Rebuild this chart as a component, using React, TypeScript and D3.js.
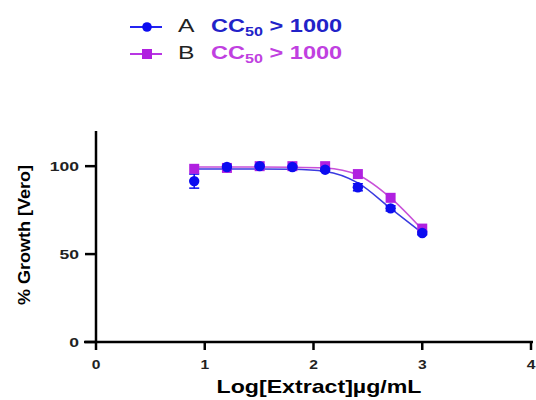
import React from "react";
import * as d3 from "d3";

const logConc = [0.903, 1.204, 1.505, 1.806, 2.107, 2.408, 2.709, 3.0];
const seriesA = [91.5, 99.5, 100, 99.5, 98, 88, 76, 62];
const errorA = [4, 1, 0.5, 0.5, 0.8, 2, 1.5, 1];
const seriesB = [98.5, 99, 100, 100, 100, 95.5, 82, 64.5];
const fitA = [98.4, 98.4, 98.4, 98.2, 97, 90.5, 76, 62];
const fitB = [99.5, 99.5, 99.5, 99.4, 99, 95, 82, 64];
const xTicks = [0, 1, 2, 3, 4];
const yTicks = [0, 50, 100];
const legendNames = ["A", "B"];
const legendNotes = ["> 1000", "> 1000"];

const colA = "#0c0cf0";
const colALine = "#3a3ae0";
const colB = "#b020e0";
const colBLine = "#c850d8";
const txtA = "#2222c8";
const txtB = "#c040e0";

export default function App() {
  const W = 536, H = 400;
  const x = d3.scaleLinear().domain([0, 4]).range([96, 531]);
  const y = d3.scaleLinear().domain([0, 120]).range([342, 131]);
  const line = d3
    .line<number>()
    .x((_, i) => x(logConc[i]))
    .y((d) => y(d))
    .curve(d3.curveMonotoneX);
  const font = "'Liberation Sans', Arial, sans-serif";
  const sq = 10;
  const legendRows = [
    { name: legendNames[0], note: legendNotes[0], y: 27, col: colA, txt: txtA, kind: "circle" },
    { name: legendNames[1], note: legendNotes[1], y: 54, col: colB, txt: txtB, kind: "square" },
  ];
  return (
    <svg width={W} height={H} style={{ position: "absolute", left: 0, top: 0, background: "#fff" }} fontFamily={font}>
      {/* Axes */}
      <line x1={84} x2={533} y1={y(0)} y2={y(0)} stroke="#000" strokeWidth={2.5} />
      <line x1={x(0)} x2={x(0)} y1={y(120)} y2={y(0)} stroke="#000" strokeWidth={2.5} />
      {yTicks.map((t) => (
        <g key={"y" + t}>
          <line x1={85} x2={x(0)} y1={y(t)} y2={y(t)} stroke="#000" strokeWidth={2.5} />
          <g transform={`translate(79,${y(t)}) scale(1.35,1)`}>
            <text x={0} y={0} dy="0.36em" textAnchor="end" fontSize={13} fontWeight="bold" fill="#222">
              {t}
            </text>
          </g>
        </g>
      ))}
      {xTicks.map((t) => (
        <g key={"x" + t}>
          <line x1={x(t)} x2={x(t)} y1={y(0)} y2={y(0) + 8} stroke="#000" strokeWidth={2.5} />
          <g transform={`translate(${x(t)},369) scale(1.2,1)`}>
            <text x={0} y={0} textAnchor="middle" fontSize={13} fontWeight="bold" fill="#222">
              {t}
            </text>
          </g>
        </g>
      ))}
      <text x={319} y={393} textAnchor="middle" fontSize={19} fontWeight="bold" textLength={205} lengthAdjust="spacingAndGlyphs">
        Log[Extract]µg/mL
      </text>
      <text transform={`translate(30,235) rotate(-90)`} textAnchor="middle" fontSize={16} fontWeight="bold" textLength={140} lengthAdjust="spacingAndGlyphs">
        % Growth [Vero]
      </text>

      {/* Fit curves */}
      <path d={line(fitA) || ""} fill="none" stroke={colALine} strokeWidth={1.5} />
      <path d={line(fitB) || ""} fill="none" stroke={colBLine} strokeWidth={1.5} />

      {/* Error bars A */}
      {seriesA.map((v, i) => (
        <g key={"e" + i} stroke={colA} strokeWidth={1.5}>
          <line x1={x(logConc[i])} x2={x(logConc[i])} y1={y(v - errorA[i])} y2={y(v + errorA[i])} />
          <line x1={x(logConc[i]) - 5} x2={x(logConc[i]) + 5} y1={y(v - errorA[i])} y2={y(v - errorA[i])} />
          <line x1={x(logConc[i]) - 5} x2={x(logConc[i]) + 5} y1={y(v + errorA[i])} y2={y(v + errorA[i])} />
        </g>
      ))}

      {/* Markers B */}
      {seriesB.map((v, i) => (
        <rect key={"b" + i} x={x(logConc[i]) - sq / 2} y={y(v) - sq / 2} width={sq} height={sq} fill={colB} />
      ))}
      {/* Markers A */}
      {seriesA.map((v, i) => (
        <circle key={"a" + i} cx={x(logConc[i])} cy={y(v)} r={5.2} fill={colA} />
      ))}

      {/* Legend */}
      {legendRows.map((r) => (
        <g key={r.name}>
          <line x1={130} x2={162} y1={r.y} y2={r.y} stroke={r.col} strokeWidth={1.8} />
          {r.kind === "circle" ? (
            <circle cx={147} cy={r.y} r={4.8} fill={r.col} />
          ) : (
            <rect x={142} y={r.y - 5} width={10} height={10} fill={r.col} />
          )}
          <g transform={`translate(178,${r.y + 5}) scale(1.3,1)`}>
            <text x={0} y={0} fontSize={19} fill="#222">{r.name}</text>
          </g>
          <g transform={`translate(211,${r.y + 5}) scale(1.24,1)`}>
            <text x={0} y={0} fontSize={19} fontWeight="bold" fill={r.txt}>
              CC<tspan fontSize={13} dy={4}>50</tspan>
              <tspan dy={-4}> {r.note}</tspan>
            </text>
          </g>
        </g>
      ))}
    </svg>
  );
}
